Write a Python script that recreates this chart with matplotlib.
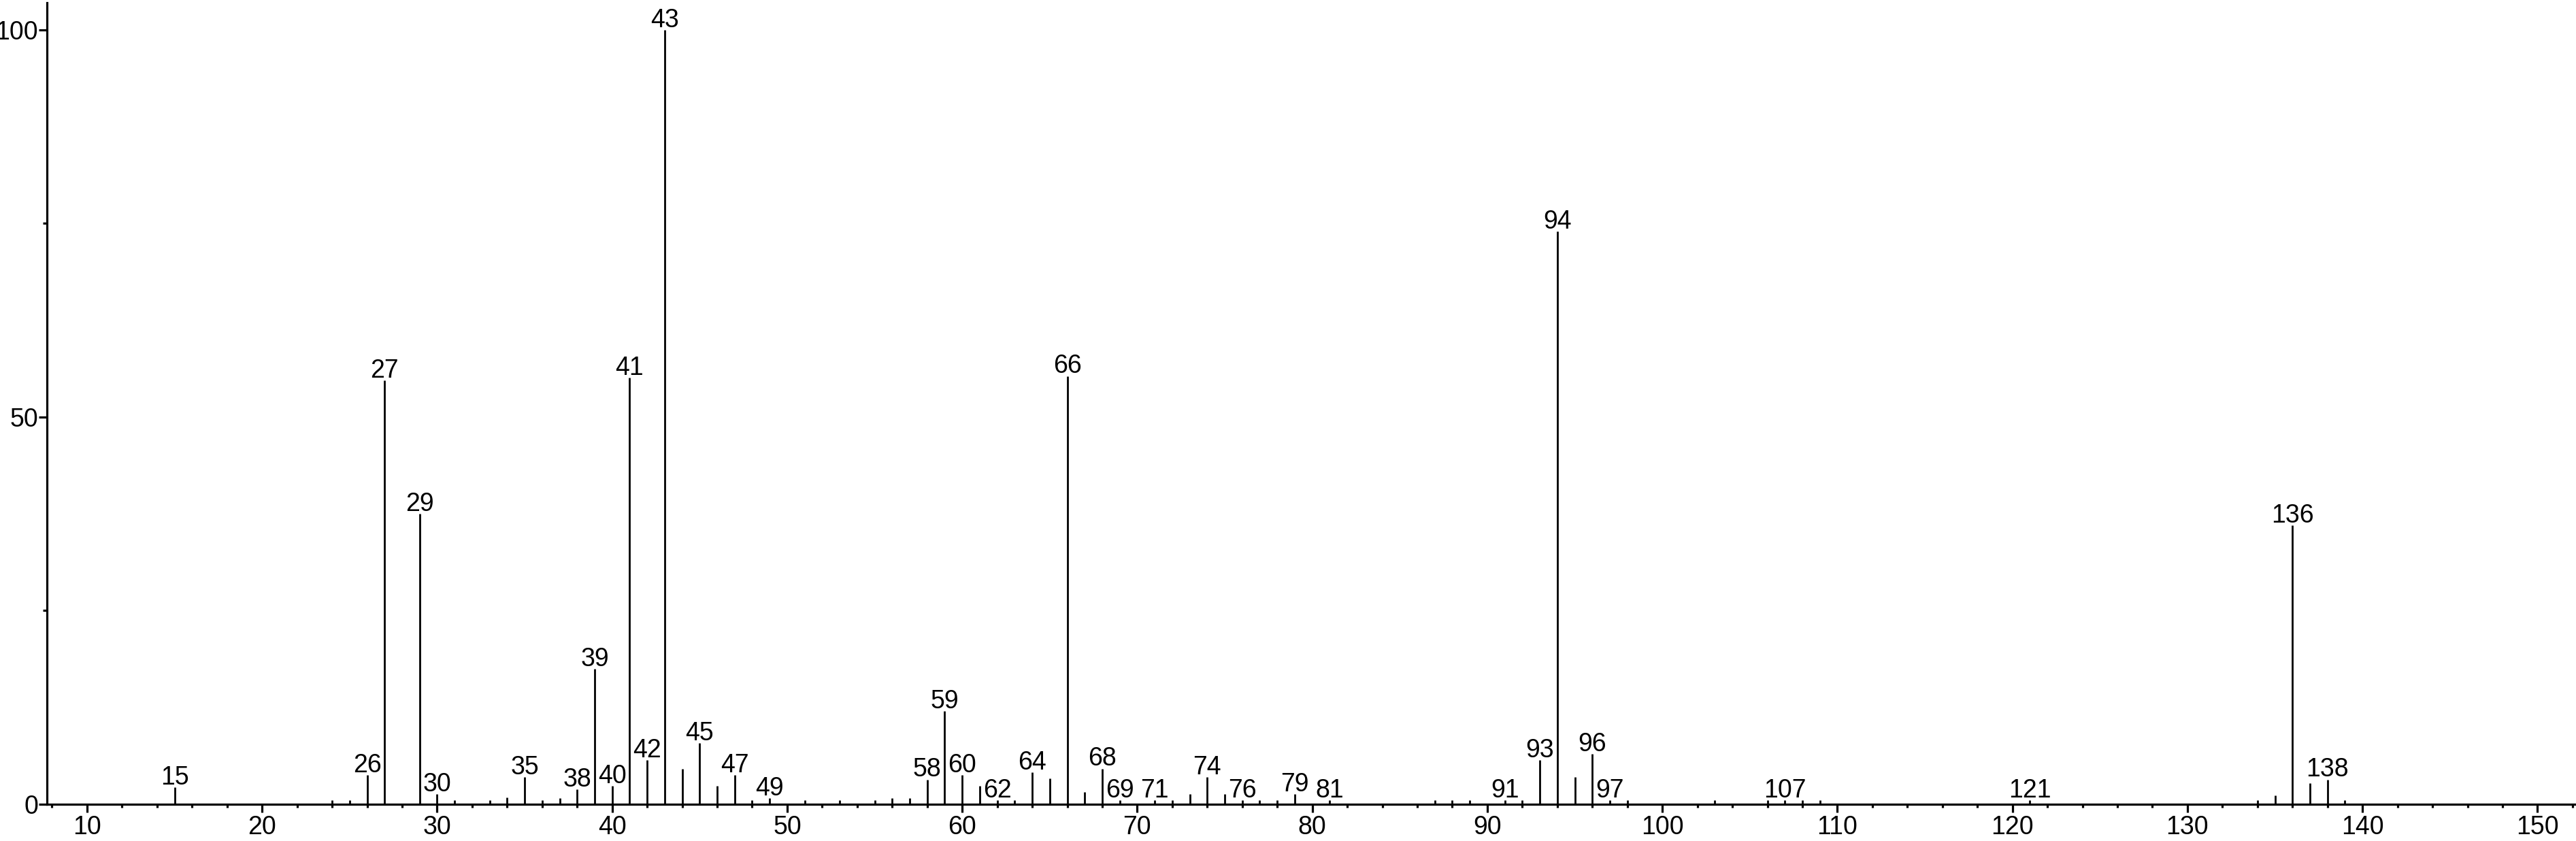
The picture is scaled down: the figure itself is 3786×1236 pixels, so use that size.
import numpy as np
import matplotlib
matplotlib.use("Agg")
import matplotlib.pyplot as plt
from matplotlib.ticker import MultipleLocator

# ==============================
# data: m/z and relative intensity
# ==============================
mz = [15, 24, 25, 26, 27, 29, 30, 31, 33, 34, 35, 36, 37, 38, 39, 40,
      41, 42, 43, 44, 45, 46, 47, 48, 49, 51, 53, 55, 56, 57, 58, 59,
      60, 61, 62, 63, 64, 65, 66, 67, 68, 69, 71, 72, 73, 74, 75, 76,
      77, 78, 79, 81, 87, 88, 89, 91, 92, 93, 94, 95, 96, 97, 98, 103,
      106, 107, 108, 109, 121, 134, 135, 136, 137, 138, 139]
intensity = [2.2, 0.5, 0.5, 3.8, 54.7, 37.5, 1.3, 0.5, 0.5, 0.9, 3.5, 0.5, 0.8, 1.9, 17.5, 2.4,
             55.1, 5.7, 100.0, 4.6, 7.9, 2.4, 3.8, 0.5, 0.8, 0.5, 0.5, 0.5, 0.8, 0.8, 3.2, 12.0,
             3.8, 2.4, 0.5, 0.5, 4.1, 3.3, 55.3, 1.6, 4.6, 0.5, 0.5, 0.5, 1.3, 3.5, 1.3, 0.5,
             0.5, 0.5, 1.3, 0.5, 0.5, 0.5, 0.5, 0.5, 0.5, 5.7, 74.0, 3.5, 6.5, 0.5, 0.5, 0.5,
             0.5, 0.5, 0.5, 0.5, 0.5, 0.5, 1.1, 36.0, 2.7, 3.2, 0.5]
labeled = [15, 26, 27, 29, 30, 35, 38, 39, 40, 41, 42, 43, 45, 47, 49, 58, 59,
           60, 62, 64, 66, 68, 69, 71, 74, 76, 79, 81, 91, 93, 94, 96, 97,
           107, 121, 136, 138]

plt.rcParams.update({
    "font.family": ["Liberation Sans", "DejaVu Sans"],
    "font.size": 27,
    "axes.linewidth": 2.3,
    "xtick.major.width": 2.3,
    "ytick.major.width": 2.3,
    "xtick.minor.width": 2.3,
    "ytick.minor.width": 2.3,
    "xtick.major.size": 8.6,
    "ytick.major.size": 8.6,
    "xtick.minor.size": 3.6,
    "ytick.minor.size": 4.3,
})

fig = plt.figure(figsize=(37.86, 12.36), dpi=100)
ax = fig.add_axes([0.0183, 0.0437, 0.9817, 0.9531])

ax.vlines(mz, 0, intensity, colors="black", linewidth=2.0)

peak = dict(zip(mz, intensity))
for m in labeled:
    ax.annotate(str(m), xy=(m, peak[m]), xytext=(0, 3), textcoords="offset points",
                ha="center", va="baseline", fontsize=27, annotation_clip=False)

ax.set_xlim(7.72, 152.2)
ax.set_ylim(0, 103.5)
ax.xaxis.set_major_locator(MultipleLocator(10))
ax.xaxis.set_minor_locator(MultipleLocator(2))
ax.yaxis.set_major_locator(MultipleLocator(50))
ax.yaxis.set_minor_locator(MultipleLocator(25))
ax.tick_params(axis="x", which="major", pad=3, labelsize=27)
ax.tick_params(axis="y", which="major", pad=1, labelsize=27)

ax.spines["top"].set_visible(False)
ax.spines["right"].set_visible(False)

fig.savefig("out.png", dpi=100)
